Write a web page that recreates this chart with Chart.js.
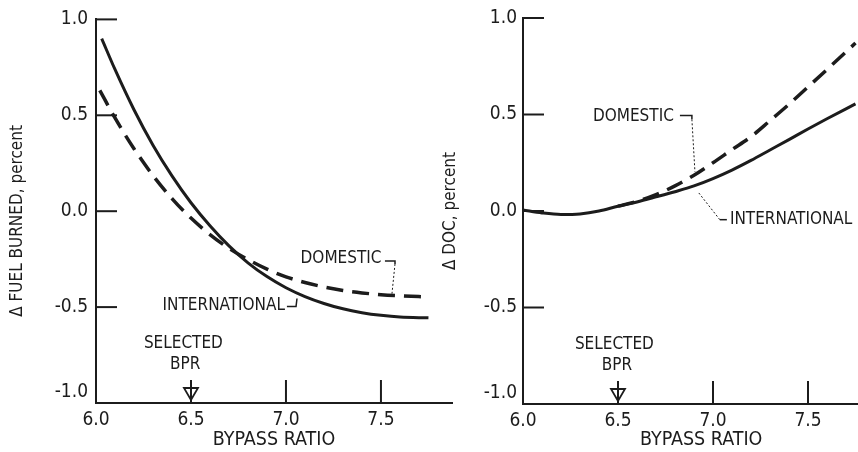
<!DOCTYPE html>
<html lang="en">
<head>
<meta charset="utf-8">
<title>Bypass ratio selection</title>
<style>
  html, body { margin: 0; padding: 0; background: #fff; }
  #wrap { position: relative; width: 858px; height: 452px; overflow: hidden; }
  canvas { position: absolute; top: 0; }
  #fuel { left: 0; }
  #doc { left: 430px; }
</style>
</head>
<body>
<div id="wrap">
  <canvas id="fuel" width="460" height="452"></canvas>
  <canvas id="doc" width="428" height="452"></canvas>
</div>
<script src="https://cdn.jsdelivr.net/npm/chart.js@4/dist/chart.umd.min.js"></script>
<script>
// tick labels shared by both panels
var bprTicks = [6.0, 6.5, 7.0, 7.5];
var pctTicks = [-1.0, -0.5, 0.0, 0.5, 1.0];
var selectedBpr = 6.5;

// left panel: delta fuel burned, percent
var fuelIntlBpr = [6.03, 6.1, 6.2, 6.3, 6.4, 6.5, 6.6, 6.7, 6.8, 6.9, 7.0, 7.1, 7.2, 7.3, 7.4, 7.5, 7.6, 7.75];
var fuelIntl    = [0.90, 0.739, 0.529, 0.344, 0.184, 0.044, -0.076, -0.181, -0.269, -0.341, -0.399, -0.445, -0.481, -0.509, -0.529, -0.543, -0.552, -0.556];
var fuelDomBpr  = [6.02, 6.1, 6.2, 6.3, 6.4, 6.5, 6.6, 6.7, 6.8, 6.9, 7.0, 7.1, 7.2, 7.3, 7.4, 7.5, 7.6, 7.75];
var fuelDom     = [0.63, 0.486, 0.326, 0.186, 0.066, -0.036, -0.122, -0.194, -0.252, -0.302, -0.342, -0.372, -0.395, -0.413, -0.426, -0.435, -0.441, -0.447];

// right panel: delta DOC, percent
var docIntlBpr = [6.0, 6.1, 6.2, 6.3, 6.4, 6.5, 6.6, 6.7, 6.8, 6.9, 7.0, 7.1, 7.2, 7.3, 7.4, 7.5, 7.6, 7.75];
var docIntl    = [0.005, -0.01, -0.018, -0.015, 0.0, 0.025, 0.047, 0.073, 0.10, 0.13, 0.168, 0.212, 0.262, 0.316, 0.37, 0.425, 0.478, 0.555];
var docDomBpr  = [6.5, 6.6, 6.7, 6.8, 6.9, 7.0, 7.1, 7.2, 7.3, 7.4, 7.5, 7.6, 7.75];
var docDom     = [0.025, 0.05, 0.085, 0.13, 0.185, 0.25, 0.318, 0.385, 0.468, 0.553, 0.643, 0.733, 0.87];

var ink = '#1c1c1c';
var face = "'DejaVu Sans Condensed', 'Liberation Sans Narrow', sans-serif";

function pts(xs, ys) {
  return xs.map(function (x, i) { return { x: x, y: ys[i] }; });
}

// inward ticks, selected-BPR arrow, curve labels and leader lines
var paperMarks = {
  id: 'paperMarks',
  afterDatasetsDraw: function (chart, args, opts) {
    var ctx = chart.ctx, xs = chart.scales.x, ys = chart.scales.y;
    var X = function (v) { return xs.getPixelForValue(v); };
    var Y = function (v) { return ys.getPixelForValue(v); };
    ctx.save();
    ctx.strokeStyle = ink;
    ctx.fillStyle = ink;
    ctx.lineWidth = 2;
    pctTicks.forEach(function (v) {
      if (v === ys.min) return;
      ctx.beginPath();
      ctx.moveTo(xs.left, Y(v));
      ctx.lineTo(xs.left + 21, Y(v));
      ctx.stroke();
    });
    bprTicks.forEach(function (v) {
      if (v === xs.min) return;
      ctx.beginPath();
      ctx.moveTo(X(v), ys.bottom);
      ctx.lineTo(X(v), ys.bottom - 23);
      ctx.stroke();
    });
    // open triangle on the selected BPR
    var sx = X(selectedBpr);
    ctx.lineWidth = 1.8;
    ctx.beginPath();
    ctx.moveTo(sx - 7, ys.bottom - 15);
    ctx.lineTo(sx + 7, ys.bottom - 15);
    ctx.lineTo(sx, ys.bottom - 3);
    ctx.closePath();
    ctx.stroke();

    ctx.font = '17px ' + face;
    ctx.textBaseline = 'middle';
    opts.labels.forEach(function (l) {
      ctx.textAlign = l.align;
      ctx.fillText(l.text, X(l.x), Y(l.y));
    });
    opts.leaders.forEach(function (ld) {
      ctx.setLineDash(ld.dotted ? [2, 2] : []);
      ctx.lineWidth = ld.dotted ? 1 : 1.5;
      ctx.beginPath();
      ld.path.forEach(function (p, i) {
        if (i === 0) ctx.moveTo(X(p[0]), Y(p[1]));
        else ctx.lineTo(X(p[0]), Y(p[1]));
      });
      ctx.stroke();
    });
    ctx.restore();
  }
};

function makeChart(id, datasets, geo, xTitle, yTitle, marks) {
  return new Chart(document.getElementById(id), {
    type: 'line',
    data: { datasets: datasets },
    options: {
      responsive: false,
      animation: false,
      devicePixelRatio: 1,
      layout: { padding: { top: geo.top, right: geo.right, left: 0, bottom: 0 } },
      elements: {
        point: { radius: 0 },
        line: { cubicInterpolationMode: 'monotone', borderCapStyle: 'butt', fill: false }
      },
      plugins: {
        legend: { display: false },
        tooltip: { enabled: false },
        paperMarks: marks
      },
      scales: {
        x: {
          type: 'linear',
          min: 6.0,
          max: geo.xMax,
          afterFit: function (s) { s.height = geo.xh; },
          afterBuildTicks: function (s) { s.ticks = bprTicks.map(function (v) { return { value: v }; }); },
          grid: { display: false, drawTicks: false },
          border: { color: ink, width: 2 },
          ticks: {
            color: ink, padding: 6, maxRotation: 0, autoSkip: false,
            font: { family: face, size: 19 },
            callback: function (v) { return v.toFixed(1); }
          },
          title: {
            display: true, text: xTitle, color: ink,
            font: { family: face, size: 19.5 }, padding: { top: 0, bottom: 0 }
          }
        },
        y: {
          type: 'linear',
          min: -1,
          max: 1,
          afterFit: function (s) { s.width = geo.yw; },
          afterBuildTicks: function (s) { s.ticks = pctTicks.map(function (v) { return { value: v }; }); },
          grid: { display: false, drawTicks: false },
          border: { color: ink, width: 2 },
          ticks: {
            color: ink, padding: geo.ypad,
            font: { family: face, size: 19 },
            // the bottom label sits above the axis line, clear of the x labels
            callback: function (v) { return v === -1 ? ['-1.0', ''] : v.toFixed(1); }
          },
          title: {
            display: true, text: yTitle, color: ink,
            font: { family: face, size: 17 }, padding: { top: geo.tpad, bottom: 0 }
          }
        }
      }
    },
    plugins: [paperMarks]
  });
}

makeChart('fuel', [
  { label: 'INTERNATIONAL', data: pts(fuelIntlBpr, fuelIntl), borderColor: ink, borderWidth: 3 },
  { label: 'DOMESTIC', data: pts(fuelDomBpr, fuelDom), borderColor: ink, borderWidth: 3.5, borderDash: [17, 9] }
], { top: 17, right: 8, xh: 49, yw: 96, xMax: 7.874, ypad: 8, tpad: 7 },
'BYPASS RATIO', '\u0394 FUEL BURNED, percent\u2007\u2007', {
  labels: [
    { text: 'DOMESTIC', x: 7.077, y: -0.249, align: 'left' },
    { text: 'INTERNATIONAL', x: 6.995, y: -0.492, align: 'right' },
    { text: 'SELECTED', x: 6.46, y: -0.69, align: 'center' },
    { text: 'BPR', x: 6.47, y: -0.80, align: 'center' }
  ],
  leaders: [
    { dotted: false, path: [[7.521, -0.259], [7.574, -0.259], [7.574, -0.275]] },
    { dotted: true, path: [[7.574, -0.275], [7.558, -0.43]] },
    { dotted: false, path: [[7.005, -0.497], [7.053, -0.497], [7.058, -0.455]] }
  ]
});

makeChart('doc', [
  { label: 'INTERNATIONAL', data: pts(docIntlBpr, docIntl), borderColor: ink, borderWidth: 3 },
  { label: 'DOMESTIC', data: pts(docDomBpr, docDom), borderColor: ink, borderWidth: 3.5, borderDash: [17, 9] }
], { top: 18, right: 1, xh: 48, yw: 93, xMax: 7.758, ypad: 6, tpad: 10 },
'\u2007\u2007BYPASS RATIO', '\u0394 DOC, percent', {
  labels: [
    { text: 'DOMESTIC', x: 6.368, y: 0.49, align: 'left' },
    { text: 'INTERNATIONAL', x: 7.089, y: -0.045, align: 'left' },
    { text: 'SELECTED', x: 6.481, y: -0.69, align: 'center' },
    { text: 'BPR', x: 6.495, y: -0.80, align: 'center' }
  ],
  leaders: [
    { dotted: false, path: [[6.826, 0.495], [6.889, 0.495], [6.889, 0.475]] },
    { dotted: true, path: [[6.889, 0.475], [6.905, 0.203]] },
    { dotted: false, path: [[7.073, -0.045], [7.036, -0.045]] },
    { dotted: true, path: [[7.036, -0.045], [6.921, 0.099]] }
  ]
});
</script>
</body>
</html>
